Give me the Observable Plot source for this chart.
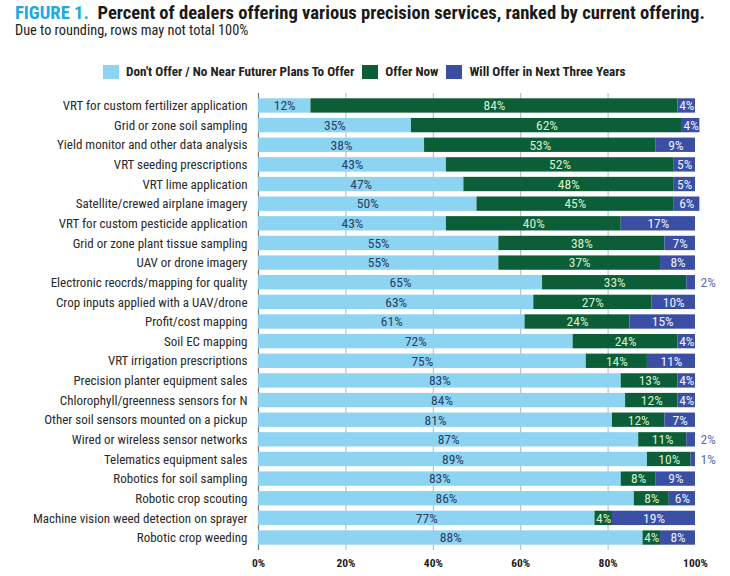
<!DOCTYPE html>
<html>
<head>
<meta charset="utf-8">
<script src="https://cdn.jsdelivr.net/npm/d3@7"></script>
<script src="https://cdn.jsdelivr.net/npm/@observablehq/plot@0.6"></script>
<style>
  html, body { margin: 0; padding: 0; background: #fff; overflow: hidden; }
  body { width: 730px; height: 576px; font-family: "Liberation Sans Narrow", "Roboto Condensed", "DejaVu Sans Condensed", sans-serif; }
  #header { height: 88px; position: relative; }
  #title { position: absolute; left: 15px; top: 2px; font-size: 18.6px; font-weight: bold; color: #1a1a1a; white-space: nowrap; }
  #title .fig { color: #22a9dc; }
  #subtitle { position: absolute; left: 15px; top: 22px; font-size: 14.3px; color: #222; white-space: nowrap; }
  #legend { position: absolute; left: 103px; top: 64px; display: flex; align-items: center; font-size: 13.2px; font-weight: bold; color: #222; white-space: nowrap; }
  #legend .item { display: flex; align-items: center; margin-right: 8px; }
  #legend .sw { width: 16px; height: 14px; margin-right: 7px; }
  #chart svg { display: block; }
</style>
</head>
<body>
<div id="header">
  <div id="title"><span class="fig">FIGURE 1.</span>&nbsp; Percent of dealers offering various precision services, ranked by current offering.</div>
  <div id="subtitle">Due to rounding, rows may not total 100%</div>
  <div id="legend"></div>
</div>
<div id="chart"></div>
<script>
const categories = [
  "VRT for custom fertilizer application",
  "Grid or zone soil sampling",
  "Yield monitor and other data analysis",
  "VRT seeding prescriptions",
  "VRT lime application",
  "Satellite/crewed airplane imagery",
  "VRT for custom pesticide application",
  "Grid or zone plant tissue sampling",
  "UAV or drone imagery",
  "Electronic reocrds/mapping for quality",
  "Crop inputs applied with a UAV/drone",
  "Profit/cost mapping",
  "Soil EC mapping",
  "VRT irrigation prescriptions",
  "Precision planter equipment sales",
  "Chlorophyll/greenness sensors for N",
  "Other soil sensors mounted on a pickup",
  "Wired or wireless sensor networks",
  "Telematics equipment sales",
  "Robotics for soil sampling",
  "Robotic crop scouting",
  "Machine vision weed detection on sprayer",
  "Robotic crop weeding"
];
const dontOffer = [12, 35, 38, 43, 47, 50, 43, 55, 55, 65, 63, 61, 72, 75, 83, 84, 81, 87, 89, 83, 86, 77, 88];
const offerNow  = [84, 62, 53, 52, 48, 45, 40, 38, 37, 33, 27, 24, 24, 14, 13, 12, 12, 11, 10, 8, 8, 4, 4];
const willOffer = [4, 4, 9, 5, 5, 6, 17, 7, 8, 2, 10, 15, 4, 11, 4, 4, 7, 2, 1, 9, 6, 19, 8];
const seriesNames = ["Don't Offer / No Near Futurer Plans To Offer", "Offer Now", "Will Offer in Next Three Years"];
const seriesColors = ["#8dd3f2", "#0b5e37", "#3a4fa3"];
const labelColors = ["#2a4162", "#d6f0cf", "#eef0ff"];
const xTicks = [0, 20, 40, 60, 80, 100];
const gridTicks = [20, 40, 60, 80];

// legend
const legend = document.getElementById("legend");
seriesNames.forEach((s, i) => {
  const item = document.createElement("div");
  item.className = "item";
  const sw = document.createElement("div");
  sw.className = "sw";
  sw.style.background = seriesColors[i];
  const t = document.createElement("span");
  t.textContent = s;
  item.appendChild(sw); item.appendChild(t);
  legend.appendChild(item);
});

const seriesValues = [dontOffer, offerNow, willOffer];
const data = categories.flatMap((c, i) => seriesNames.map((s, k) => ({cat: c, series: s, k, value: seriesValues[k][i]})));
const smallOutside = data.filter(d => d.k === 2 && d.value <= 2);

const font = "'Liberation Sans Narrow', 'Roboto Condensed', 'DejaVu Sans Condensed', sans-serif";

const textMarks = [0, 1, 2].map(k => Plot.text(data, Plot.stackX({
  x: "value", y: "cat", z: "series",
  text: d => (d.k === k && !(d.k === 2 && d.value <= 2)) ? d.value + "%" : "",
  fill: labelColors[k], fontSize: 13.5, fontFamily: font
})));

const chart = Plot.plot({
  width: 730,
  height: 488,
  marginTop: 5,
  marginBottom: 26,
  marginLeft: 258,
  marginRight: 35,
  style: {fontFamily: font, background: "transparent"},
  x: {domain: [0, 100], axis: null},
  y: {domain: categories, padding: 0.27, round: false, axis: null},
  color: {domain: seriesNames, range: seriesColors},
  marks: [
    Plot.ruleX(gridTicks, {stroke: "#b5b5b5", strokeWidth: 1}),
    Plot.ruleX([0], {stroke: "#777", strokeWidth: 1.2}),
    Plot.barX(data, Plot.stackX({x: "value", y: "cat", fill: "series", z: "series"})),
    ...textMarks,
    Plot.text(smallOutside, {x: () => 100, y: "cat", text: d => d.value + "%", dx: 5, textAnchor: "start", fill: "#5a6cb8", fontSize: 13.5, fontFamily: font}),
    Plot.axisY({label: null, tickSize: 0, tickPadding: 11, fontSize: 13, color: "#2a2a2a"}),
    Plot.axisX(xTicks, {label: null, tickSize: 0, tickPadding: 8, tickFormat: d => d + "%", fontSize: 11.5, fontWeight: "bold", color: "#222"})
  ]
});
document.getElementById("chart").appendChild(chart);
</script>
</body>
</html>
